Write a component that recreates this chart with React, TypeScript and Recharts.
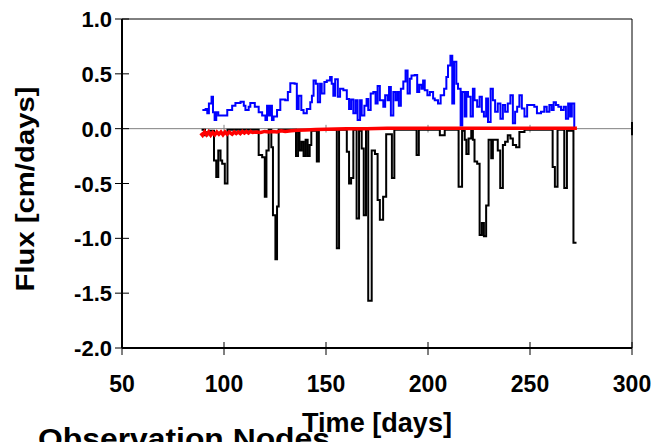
import { LineChart, Line, XAxis, YAxis, ReferenceLine } from "recharts";

const xTicks = [50, 100, 150, 200, 250, 300];
const yTicks = [-2, -1.5, -1, -0.5, 0, 0.5, 1];

const blueDays = [
  89.4, 91.0, 91.8, 92.6, 93.9, 94.6, 95.4, 96.2, 97.2, 101.6, 104.0, 105.6, 108.1, 109.7, 110.5, 112.1,
  112.9, 115.1, 117.0, 118.7, 120.3, 121.1, 121.9, 122.7, 123.5, 124.3, 126.0, 127.6, 130.0, 131.3, 132.5,
  134.6, 135.7, 136.6, 137.9, 139.0, 140.6, 142.3, 143.1, 143.9, 145.0, 146.0, 147.1, 147.9, 149.2, 150.4,
  152.0, 152.8, 153.6, 154.5, 155.8, 156.9, 158.5, 160.2, 161.3, 162.3, 163.4, 164.5, 165.5, 166.7, 167.5,
  168.8, 169.9, 170.7, 171.9, 173.2, 174.3, 175.3, 176.4, 178.1, 179.0, 180.2, 180.9, 181.8, 183.0, 184.1,
  185.1, 185.7, 186.7, 187.9, 189.0, 190.0, 191.1, 191.9, 193.5, 194.7, 195.7, 196.8, 197.6, 198.4, 199.7,
  200.9, 202.5, 203.3, 204.9, 206.2, 207.9, 209.0, 209.8, 211.0, 211.9, 212.8, 213.9, 214.7, 216.0, 216.8,
  218.0, 218.8, 219.6, 220.9, 222.0, 222.8, 224.1, 225.3, 226.4, 227.4, 228.5, 229.4, 230.7, 231.8, 232.9,
  234.2, 235.5, 236.7, 237.8, 239.1, 240.4, 241.6, 242.7, 243.7, 244.8, 246.0, 247.3, 248.6, 252.1, 253.4,
  255.4, 257.0, 258.2, 259.5, 260.6, 261.6, 262.7, 263.9, 265.2, 266.5, 267.6, 268.7, 269.7, 270.5, 271.7,
  272.3,
];
const blueFlux = [
  0.17, 0.18, 0.14, 0.23, 0.29, 0.15, 0.08, 0.15, 0.12, 0.17, 0.21, 0.235, 0.245, 0.21, 0.17, 0.2,
  0.235, 0.2, 0.15, 0.12, 0.08, 0.21, 0.12, 0.21, 0.08, 0.11, 0.17, 0.265, 0.26, 0.335, 0.415,
  0.41, 0.18, 0.3, 0.17, 0.14, 0.18, 0.24, 0.3, 0.44, 0.41, 0.24, 0.41, 0.32, 0.425, 0.44,
  0.47, 0.41, 0.3, 0.45, 0.29, 0.365, 0.35, 0.27, 0.18, 0.265, 0.14, 0.26, 0.08, 0.26, 0.12,
  0.21, 0.27, 0.17, 0.32, 0.335, 0.23, 0.39, 0.26, 0.2, 0.305, 0.26, 0.38, 0.12, 0.335, 0.26,
  0.335, 0.21, 0.365, 0.43, 0.53, 0.32, 0.455, 0.485, 0.49, 0.335, 0.4, 0.365, 0.44, 0.35, 0.305,
  0.335, 0.275, 0.26, 0.23, 0.305, 0.365, 0.47, 0.575, 0.665, 0.23, 0.61, 0.41, 0.365, 0.03, 0.335,
  0.11, 0.335, 0.29, 0.11, 0.365, 0.26, 0.2, 0.29, 0.155, 0.11, 0.275, 0.06, 0.365, 0.26, 0.155,
  0.23, 0.09, 0.215, 0.155, 0.23, 0.305, 0.05, 0.155, 0.2, 0.305, 0.185, 0.11, 0.215, 0.2, 0.14,
  0.155, 0.2, 0.155, 0.215, 0.17, 0.24, 0.215, 0.2, 0.17, 0.2, 0.09, 0.23, 0.11, 0.23, 0.0,
  0.0,
];

const blackDays = [
  89.0, 90.7, 91.8, 92.6, 95.1, 96.2, 97.2, 98.3, 99.1, 100.4, 101.7, 117.0, 118.7, 120.0, 120.8, 121.9,
  123.2, 124.0, 125.2, 126.0, 126.8, 135.3, 136.3, 137.0, 138.0, 139.0, 140.0, 141.0, 142.0, 142.8, 145.5,
  146.5, 155.3, 156.4, 160.2, 161.3, 162.3, 163.4, 165.0, 166.2, 167.5, 168.5, 169.6, 170.7, 172.4, 174.0,
  175.3, 176.4, 178.0, 179.5, 182.3, 183.5, 194.4, 195.5, 205.8, 208.2, 215.0, 216.7, 218.0, 218.8, 219.9,
  221.2, 222.0, 222.8, 224.1, 225.3, 226.4, 227.4, 228.5, 229.7, 231.0, 231.8, 234.2, 235.4, 236.7, 237.8,
  239.1, 240.4, 241.6, 243.2, 244.8, 247.3, 261.1, 262.2, 263.5, 266.8, 268.1, 271.3, 272.8,
];
const blackFlux = [
  -0.01, -0.06, -0.03, -0.02, -0.29, -0.44, -0.2, -0.29, -0.32, -0.5, -0.01, -0.24, -0.26, -0.62, -0.2, -0.01,
  -0.17, -0.79, -1.19, -0.71, -0.01, -0.25, -0.02, -0.2, -0.12, -0.25, -0.1, -0.25, -0.15, -0.02, -0.3,
  -0.01, -1.09, -0.01, -0.21, -0.5, -0.45, -0.01, -0.82, -0.02, -0.18, -0.79, -0.01, -1.57, -0.2, -0.23,
  -0.65, -0.83, -0.62, -0.05, -0.45, -0.01, -0.24, -0.01, -0.06, -0.01, -0.53, -0.02, -0.1, -0.23, -0.09,
  -0.01, -0.1, -0.3, -0.32, -0.97, -0.86, -0.98, -0.7, -0.1, -0.27, -0.1, -0.2, -0.54, -0.15, -0.12,
  -0.06, -0.09, -0.15, -0.17, -0.03, -0.01, -0.35, -0.53, -0.01, -0.54, -0.02, -1.04, -1.04,
];

const redDays = [
  88.6, 89.5, 90.5, 91.5, 92.5, 93.5, 94.5, 95.5, 96.5, 97.5, 98.5, 99.5, 100.5, 101.5, 102.5, 104, 105,
  106, 107, 108, 109, 110, 111, 112, 113, 114, 116, 118, 120, 122, 124, 126, 128, 130, 133, 136, 140, 145,
  150, 160, 170, 180, 190, 200, 210, 220, 230, 240, 250, 260, 273,
];
const redFlux = [
  -0.04, -0.06, -0.03, -0.055, -0.03, -0.06, -0.035, -0.055, -0.03, -0.05, -0.03, -0.055, -0.03, -0.05,
  -0.03, -0.05, -0.03, -0.045, -0.03, -0.045, -0.025, -0.04, -0.025, -0.04, -0.025, -0.035, -0.03, -0.035,
  -0.025, -0.03, -0.025, -0.03, -0.02, -0.025, -0.02, -0.015, -0.012, -0.008, -0.005, 0, 0, 0.003, 0.003,
  0.003, 0.003, 0.003, 0.003, 0.003, 0.003, 0.003, 0.003,
];

const toPoints = (days: number[], flux: number[]) => days.map((t, i) => ({ t, v: flux[i] }));

const blueData = toPoints(blueDays, blueFlux);
const blackData = toPoints(blackDays, blackFlux);
const redData = toPoints(redDays, redFlux);

const FONT = "'Liberation Sans', Arial, sans-serif";
const PLOT_LEFT = 122;
const PLOT_BOTTOM = 348;

function YTick(props: any) {
  const { y, payload } = props;
  return (
    <g>
      <line x1={PLOT_LEFT - 7} x2={PLOT_LEFT + 7} y1={y} y2={y} stroke="#000" strokeWidth={1} />
      <text x={112} y={y + 8} textAnchor="end" fontFamily={FONT} fontWeight="bold" fontSize={22} fill="#000">
        {Number(payload.value).toFixed(1)}
      </text>
    </g>
  );
}

function XTick(props: any) {
  const { x, payload } = props;
  return (
    <g>
      <line x1={x} x2={x} y1={PLOT_BOTTOM - 6} y2={PLOT_BOTTOM + 7} stroke="#000" strokeWidth={1} />
      <text x={x} y={392} textAnchor="middle" fontFamily={FONT} fontWeight="bold" fontSize={23} fill="#000">
        {payload.value}
      </text>
    </g>
  );
}

export default function App() {
  return (
    <div style={{ position: "absolute", left: 0, top: 0, width: 662, height: 442, background: "#fff" }}>
      <LineChart width={662} height={442} margin={{ top: 19, right: 30, bottom: 54, left: 0 }}>
        <XAxis
          dataKey="t"
          type="number"
          domain={[50, 300]}
          ticks={xTicks}
          allowDataOverflow
          height={40}
          axisLine={{ stroke: "#000", strokeWidth: 2 }}
          tickLine={false}
          tick={XTick}
          interval={0}
        />
        <YAxis
          type="number"
          domain={[-2, 1]}
          ticks={yTicks}
          allowDataOverflow
          width={122}
          axisLine={{ stroke: "#000", strokeWidth: 2 }}
          tickLine={false}
          tick={YTick}
          interval={0}
        />
        <ReferenceLine y={1} stroke="#000" strokeWidth={1} />
        <ReferenceLine x={300} stroke="#000" strokeWidth={1} />
        <ReferenceLine y={0} stroke="#808080" strokeWidth={1} />
        {[100, 150, 200, 250].map((d) => (
          <ReferenceLine
            key={d}
            segment={[
              { x: d, y: -0.035 },
              { x: d, y: 0.035 },
            ]}
            stroke="#808080"
            strokeWidth={1}
          />
        ))}
        <ReferenceLine
          segment={[
            { x: 300, y: -0.06 },
            { x: 300, y: 0.06 },
          ]}
          stroke="#000"
          strokeWidth={2}
        />
        <Line
          data={blueData}
          dataKey="v"
          type="stepAfter"
          stroke="#0000ff"
          strokeWidth={2}
          dot={false}
          isAnimationActive={false}
        />
        <Line
          data={blackData}
          dataKey="v"
          type="stepAfter"
          stroke="#000"
          strokeWidth={2}
          dot={false}
          isAnimationActive={false}
        />
        <Line
          data={redData}
          dataKey="v"
          type="linear"
          stroke="#ff0000"
          strokeWidth={3.5}
          dot={false}
          isAnimationActive={false}
        />
      </LineChart>
      <svg
        width={662}
        height={442}
        style={{ position: "absolute", left: 0, top: 0, pointerEvents: "none" }}
      >
        <text
          transform="translate(34, 189) rotate(-90)"
          x={0}
          y={0}
          textAnchor="middle"
          fontFamily={FONT}
          fontWeight="bold"
          fontSize={25}
          textLength={205}
          lengthAdjust="spacingAndGlyphs"
          fill="#000"
        >
          Flux [cm/days]
        </text>
        <text
          x={38}
          y={449}
          fontFamily={FONT}
          fontWeight="bold"
          fontSize={29}
          textLength={292}
          lengthAdjust="spacingAndGlyphs"
          fill="#000"
        >
          Observation Nodes
        </text>
        <text
          x={377}
          y={432}
          textAnchor="middle"
          fontFamily={FONT}
          fontWeight="bold"
          fontSize={28}
          textLength={150}
          lengthAdjust="spacingAndGlyphs"
          fill="#000"
        >
          Time [days]
        </text>
      </svg>
    </div>
  );
}
